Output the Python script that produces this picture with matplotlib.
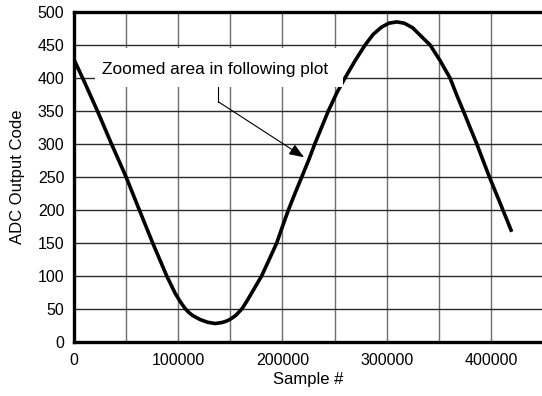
import matplotlib
matplotlib.use("Agg")
import matplotlib.pyplot as plt
from matplotlib.patches import Rectangle

plt.rcParams['font.family'] = ['Liberation Sans', 'DejaVu Sans']

# ADC output code
sample = [0, 10000, 22500, 36000, 50000, 62700, 75500, 89000, 97000, 102000,
          106500, 110000, 114000, 121000, 128000, 135300, 142000, 146000, 150000,
          155000, 161000, 165500, 170000, 180000, 187000, 194500, 200000, 205700,
          212000, 218500, 225000, 231000, 237500, 244000, 252000, 260000, 270000,
          279300, 287000, 295000, 302000, 309700, 317000, 325000, 332000, 341700,
          351000, 360800, 367000, 373600, 380000, 386500, 392500, 398600, 410000,
          420000]
code = [428, 394, 350, 300, 250, 200, 150, 100, 74, 61,
        51, 45, 40, 34, 30, 28, 29.5, 31.5, 34.5,
        40, 50, 61, 73, 100, 124, 150, 175, 200,
        225, 250, 275, 300, 325, 350, 377, 400, 427,
        450, 466, 477, 483, 485, 483, 476, 465, 450,
        427, 400, 375, 350, 325, 300, 275, 250, 206,
        167]

x_ticks = [0, 100000, 200000, 300000, 400000]
y_ticks = list(range(0, 501, 50))

fig = plt.figure(figsize=(5.42, 3.96), dpi=100)
ax = fig.add_axes([74/542, 54/396, 469/542, 330/396])

ax.plot(sample, code, color='black', lw=2.6, zorder=3,
        solid_joinstyle='round', solid_capstyle='butt')

ax.set_xlim(0, 450000)
ax.set_ylim(0, 500)
ax.set_xticks(x_ticks)
ax.set_xticklabels([str(t) for t in x_ticks])
ax.set_yticks(y_ticks)

# grid: vertical every 50000, horizontal every 50
for gx in range(50000, 450001, 50000):
    ax.axvline(gx, color='#6e6e6e', lw=1.0, zorder=1)
for gy in y_ticks[1:]:
    ax.axhline(gy, color='#2a2a2a', lw=1.0, zorder=1)

ax.tick_params(axis='x', length=0, labelsize=11.5, pad=8)
ax.tick_params(axis='y', length=0, labelsize=11.5, pad=7)
ax.set_xlabel('Sample #', fontsize=12, labelpad=3)
ax.set_ylabel('ADC Output Code', fontsize=12, labelpad=9)

for side in ['left', 'bottom', 'top']:
    ax.spines[side].set_linewidth(2.4)
    ax.spines[side].set_zorder(5)
ax.spines['right'].set_visible(False)

# annotation box and arrow
ax.add_patch(Rectangle((20150, 386.8), 258200 - 20150, 446.2 - 386.8,
                       facecolor='white', edgecolor='none', zorder=4))
ax.text(26900, 413, 'Zoomed area in following plot', fontsize=12.4,
        va='center', ha='left', zorder=5)
ax.plot([138500, 138500], [386.8, 364], color='black', lw=0.8, zorder=5)
ax.annotate('', xy=(220700, 279.8), xytext=(138500, 364),
            arrowprops=dict(arrowstyle='-|>,head_length=0.9,head_width=0.35',
                            color='black', lw=0.8, shrinkA=0, shrinkB=0),
            zorder=5)

fig.savefig('out.png', dpi=100)
